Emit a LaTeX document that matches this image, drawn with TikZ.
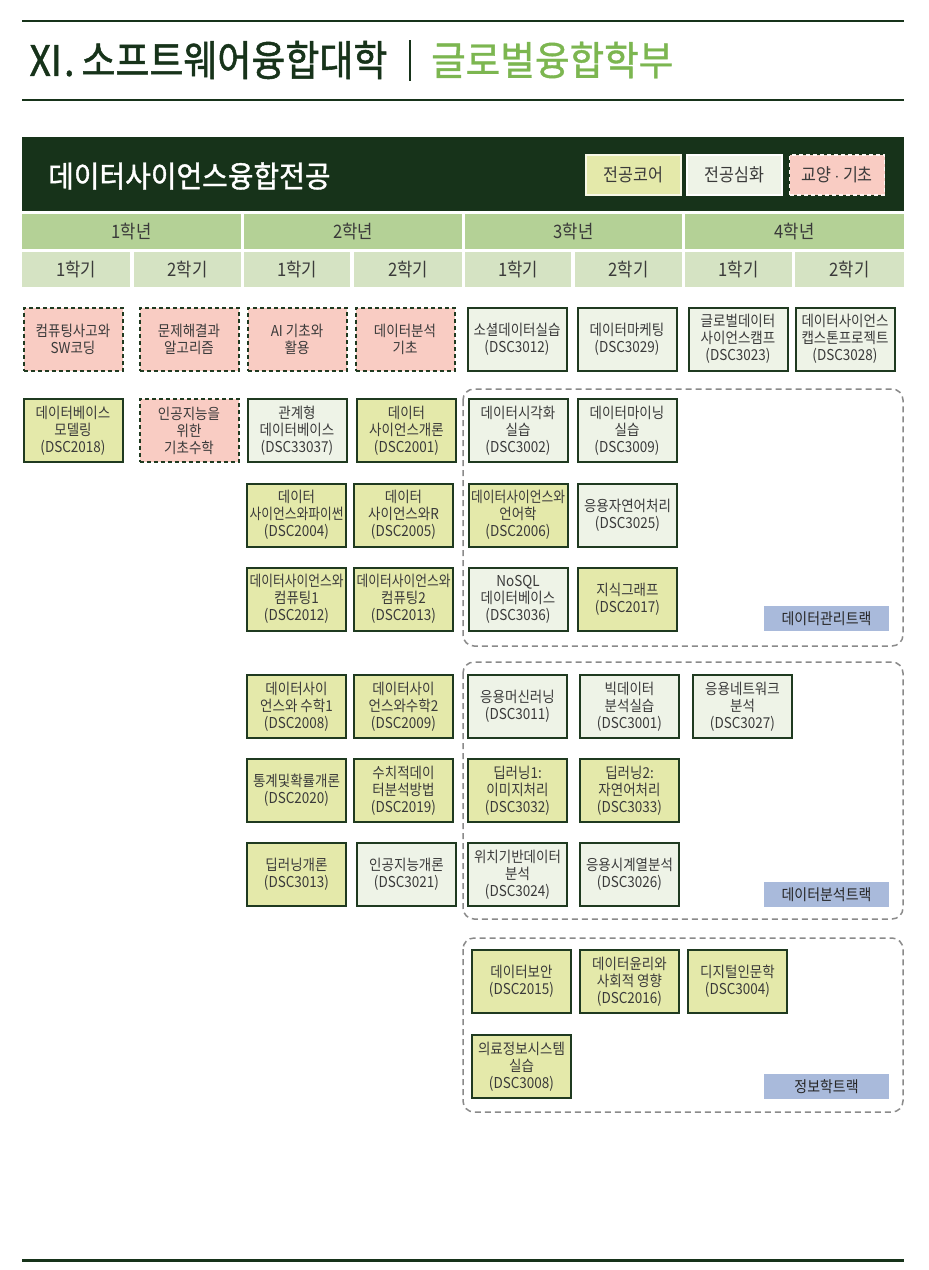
\documentclass[tikz,border=0pt]{standalone}
\usepackage{fontspec}
\usepackage{graphicx}
\newfontfamily\kr[FakeStretch=0.9]{Noto Sans CJK KR}
\newfontfamily\krh[FakeStretch=0.88,FakeBold=1.2]{Noto Sans CJK KR}
\newfontfamily\krm[FakeStretch=0.93,FakeBold=1.2]{Noto Sans CJK KR}
\newfontfamily\krg[FakeStretch=0.94,FakeBold=1]{Noto Sans CJK KR}
\definecolor{dkgreen}{HTML}{17331A}
\definecolor{titlegreen}{HTML}{7CB650}
\definecolor{corefill}{HTML}{E4E9AA}
\definecolor{advfill}{HTML}{EEF3E7}
\definecolor{basefill}{HTML}{F9CCC3}
\definecolor{boxline}{HTML}{1F3A20}
\definecolor{yearfill}{HTML}{B4D196}
\definecolor{semfill}{HTML}{D5E3C3}
\definecolor{trackfill}{HTML}{A9BADB}
\definecolor{txt}{HTML}{3A3A3A}
\definecolor{trackline}{HTML}{8A8A8A}
\newsavebox\flbox
\newcommand\fl[1]{\sbox\flbox{#1}\ifdim\wd\flbox>94pt\resizebox{94pt}{\height}{\usebox\flbox}\else\usebox\flbox\fi}
\begin{document}
\begin{tikzpicture}[x=1pt,y=-1pt,
  course/.style={line width=2pt, minimum width=99pt, minimum height=63pt, inner sep=0pt,
    align=center, text=txt, font=\kr\fontsize{15pt}{17pt}\selectfont},
  core/.style={course, draw=boxline, fill=corefill},
  adv/.style={course, draw=boxline, fill=advfill},
  base/.style={course, draw=boxline, fill=basefill, dash pattern=on 4pt off 3pt},
  yearcell/.style={fill=yearfill, minimum height=35pt, inner sep=0pt, text=txt,
    font=\kr\fontsize{18.5pt}{20pt}\selectfont},
  semcell/.style={fill=semfill, minimum height=35pt, inner sep=0pt, text=txt,
    font=\kr\fontsize{18.5pt}{20pt}\selectfont},
  legend/.style={minimum width=95pt, minimum height=40pt, inner sep=0pt, text=txt,
    line width=1.5pt, font=\kr\fontsize{18pt}{20pt}\selectfont},
  tracklabel/.style={fill=trackfill, minimum width=125pt, minimum height=25pt, inner sep=0pt,
    text=black!85, font=\kr\fontsize{15.5pt}{17pt}\selectfont},
  trackframe/.style={draw=trackline, line width=1.5pt, dash pattern=on 6pt off 4pt, rounded corners=11pt},
  rule/.style={draw=dkgreen, line width=2pt}
]
\useasboundingbox (0,0) rectangle (929,1270);
\fill[white] (0,0) rectangle (929,1270);

% header
\coordinate (tl1) at (22,21); \coordinate (tr1) at (904,21);
\coordinate (tl2) at (22,100); \coordinate (tr2) at (904,100);
\coordinate (bl) at (22,1260); \coordinate (br) at (904,1260);
\draw[rule] (tl1) -- (tr1);
\draw[rule] (tl2) -- (tr2);
\draw[draw=dkgreen, line width=3pt] (bl) -- (br);
\node[anchor=west, inner sep=0pt, text=dkgreen, font=\krh\fontsize{42pt}{46pt}\selectfont] (college) at (27,60) {Ⅺ.\,소프트웨어융합대학};
\coordinate (bar1) at (410,40); \coordinate (bar2) at (410,81);
\draw[dkgreen, line width=1.6pt] (bar1) -- (bar2);
\node[anchor=west, inner sep=0pt, text=titlegreen, font=\krg\fontsize{40pt}{44pt}\selectfont] (dept) at (431,60) {글로벌융합학부};

% banner
\node[fill=dkgreen, minimum width=882pt, minimum height=74pt, inner sep=0pt, anchor=north west] (banner) at (22,137) {};
\node[anchor=west, inner sep=0pt, text=white, font=\krm\fontsize{30pt}{33pt}\selectfont] (major) at (48,176) {데이터사이언스융합전공};
\node[legend, fill=corefill, draw=white!70!corefill] (lg1) at (633.5,175) {전공코어};
\node[legend, fill=advfill, draw=white] (lg2) at (734.5,175) {전공심화};
\node[legend, fill=basefill, draw=white!80!basefill, dash pattern=on 4pt off 3pt] (lg3) at (837,175) {교양 $\cdot$ 기초};

% years
\node[yearcell, minimum width=219pt] (y1) at (131.5,231.5) {1학년};
\node[yearcell, minimum width=218pt] (y2) at (353,231.5) {2학년};
\node[yearcell, minimum width=217pt] (y3) at (573.5,231.5) {3학년};
\node[yearcell, minimum width=219pt] (y4) at (794.5,231.5) {4학년};
\node[semcell, minimum width=108pt] (s11) at (76,269.5) {1학기};
\node[semcell, minimum width=107pt] (s12) at (187.5,269.5) {2학기};
\node[semcell, minimum width=106pt] (s21) at (297,269.5) {1학기};
\node[semcell, minimum width=108pt] (s22) at (408,269.5) {2학기};
\node[semcell, minimum width=106pt] (s31) at (518,269.5) {1학기};
\node[semcell, minimum width=107pt] (s32) at (628.5,269.5) {2학기};
\node[semcell, minimum width=107pt] (s41) at (738.5,269.5) {1학기};
\node[semcell, minimum width=109pt] (s42) at (849.5,269.5) {2학기};

% track frames
\draw[trackframe] (463,389) rectangle (903,646);
\draw[trackframe] (463,662) rectangle (903,919);
\draw[trackframe] (463,938) rectangle (903,1112);
\node[tracklabel] (t1) at (826.5,618.5) {데이터관리트랙};
\node[tracklabel] (t2) at (826.5,894.5) {데이터분석트랙};
\node[tracklabel] (t3) at (826.5,1086.5) {정보학트랙};

% row 1
\node[base] (b11) at (73,339) {\fl{컴퓨팅사고와}\\\fl{SW코딩}};
\node[base] (b12) at (189,339) {\fl{문제해결과}\\\fl{알고리즘}};
\node[base] (b13) at (297,339) {\fl{AI 기초와}\\\fl{활용}};
\node[base] (b14) at (405,339) {\fl{데이터분석}\\\fl{기초}};
\node[adv] (c15) at (517,339) {\fl{소셜데이터실습}\\\fl{(DSC3012)}};
\node[adv] (c16) at (627,339) {\fl{데이터마케팅}\\\fl{(DSC3029)}};
\node[adv] (c17) at (738,339) {\fl{글로벌데이터}\\\fl{사이언스캠프}\\\fl{(DSC3023)}};
\node[adv] (c18) at (845,339) {\fl{데이터사이언스}\\\fl{캡스톤프로젝트}\\\fl{(DSC3028)}};

% row 2
\node[core] (c21) at (73,430.5) {\fl{데이터베이스}\\\fl{모델링}\\\fl{(DSC2018)}};
\node[base] (b22) at (189,430.5) {\fl{인공지능을}\\\fl{위한}\\\fl{기초수학}};
\node[adv] (c23) at (297,430.5) {\fl{관계형}\\\fl{데이터베이스}\\\fl{(DSC33037)}};
\node[core] (c24) at (406.5,430.5) {\fl{데이터}\\\fl{사이언스개론}\\\fl{(DSC2001)}};
\node[adv] (c25) at (518,430.5) {\fl{데이터시각화}\\\fl{실습}\\\fl{(DSC3002)}};
\node[adv] (c26) at (627,430.5) {\fl{데이터마이닝}\\\fl{실습}\\\fl{(DSC3009)}};

% row 3
\node[core] (c31) at (296.5,515) {\fl{데이터}\\\fl{사이언스와파이썬}\\\fl{(DSC2004)}};
\node[core] (c32) at (403.5,515) {\fl{데이터}\\\fl{사이언스와R}\\\fl{(DSC2005)}};
\node[core] (c33) at (518,515) {\fl{데이터사이언스와}\\\fl{언어학}\\\fl{(DSC2006)}};
\node[adv] (c34) at (627.5,515) {\fl{응용자연어처리}\\\fl{(DSC3025)}};

% row 4
\node[core] (c41) at (296.5,599) {\fl{데이터사이언스와}\\\fl{컴퓨팅1}\\\fl{(DSC2012)}};
\node[core] (c42) at (403.5,599) {\fl{데이터사이언스와}\\\fl{컴퓨팅2}\\\fl{(DSC2013)}};
\node[adv] (c43) at (518,599) {\fl{NoSQL}\\\fl{데이터베이스}\\\fl{(DSC3036)}};
\node[core] (c44) at (627.5,599) {\fl{지식그래프}\\\fl{(DSC2017)}};

% row 5
\node[core] (c51) at (296.5,706.5) {\fl{데이터사이}\\\fl{언스와 수학1}\\\fl{(DSC2008)}};
\node[core] (c52) at (403.5,706.5) {\fl{데이터사이}\\\fl{언스와수학2}\\\fl{(DSC2009)}};
\node[adv] (c53) at (517.5,706.5) {\fl{응용머신러닝}\\\fl{(DSC3011)}};
\node[adv] (c54) at (629.5,706.5) {\fl{빅데이터}\\\fl{분석실습}\\\fl{(DSC3001)}};
\node[adv] (c55) at (742.5,706.5) {\fl{응용네트워크}\\\fl{분석}\\\fl{(DSC3027)}};

% row 6
\node[core] (c61) at (296.5,790.5) {\fl{통계및확률개론}\\\fl{(DSC2020)}};
\node[core] (c62) at (403.5,790.5) {\fl{수치적데이}\\\fl{터분석방법}\\\fl{(DSC2019)}};
\node[core] (c63) at (517.5,790.5) {\fl{딥러닝1:}\\\fl{이미지처리}\\\fl{(DSC3032)}};
\node[core] (c64) at (629.5,790.5) {\fl{딥러닝2:}\\\fl{자연어처리}\\\fl{(DSC3033)}};

% row 7
\node[core] (c71) at (296.5,874.5) {\fl{딥러닝개론}\\\fl{(DSC3013)}};
\node[adv] (c72) at (406.5,874.5) {\fl{인공지능개론}\\\fl{(DSC3021)}};
\node[adv] (c73) at (517.5,874.5) {\fl{위치기반데이터}\\\fl{분석}\\\fl{(DSC3024)}};
\node[adv] (c74) at (629.5,874.5) {\fl{응용시계열분석}\\\fl{(DSC3026)}};

% row 8-9
\node[core] (c81) at (521.5,981.5) {\fl{데이터보안}\\\fl{(DSC2015)}};
\node[core] (c82) at (629.5,981.5) {\fl{데이터윤리와}\\\fl{사회적 영향}\\\fl{(DSC2016)}};
\node[core] (c83) at (737.5,981.5) {\fl{디지털인문학}\\\fl{(DSC3004)}};
\node[core] (c91) at (521.5,1066.5) {\fl{의료정보시스템}\\\fl{실습}\\\fl{(DSC3008)}};
\end{tikzpicture}
\end{document}
